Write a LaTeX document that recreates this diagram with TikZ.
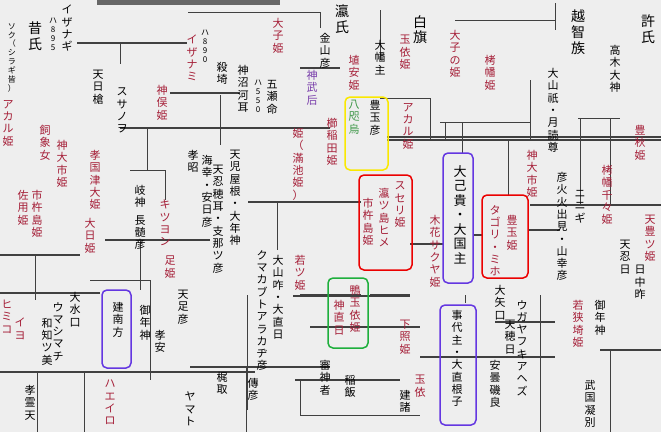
\documentclass[tikz,border=0pt]{standalone}
\usepackage{fontspec}
\newfontfamily\jp{Noto Sans CJK JP}
\makeatletter
\def\vstackA#1{\ifx#1\relax\else\hbox to 1em{\hss#1\hss}\expandafter\vstackA\fi}
\newcommand\vs[1]{\vbox{\baselineskip=1.12em\lineskiplimit=-20pt\vstackA#1\relax}}
\makeatother
\definecolor{bg}{RGB}{238,238,238}
\definecolor{rd}{RGB}{165,30,55}
\definecolor{pu}{RGB}{120,60,170}
\definecolor{bx}{RGB}{235,0,0}
\definecolor{by}{RGB}{250,232,0}
\definecolor{bp}{RGB}{100,55,225}
\definecolor{bg2}{RGB}{30,175,60}
\definecolor{gr}{RGB}{60,150,70}
\tikzset{
  n/.style={inner sep=0pt,anchor=north,font=\jp\fontsize{11}{12}\selectfont},
  s/.style={n,font=\jp\fontsize{8}{9}\selectfont},
  r/.style={n,text=rd},
  rs/.style={s,text=rd},
  bk/.style={n,font=\jp\fontsize{14}{15}\selectfont},
  ln/.style={line width=1.1pt,black!75},
  tl/.style={line width=0.6pt,black!75},
  hb/.style={rounded corners=5pt,line width=1.5pt},
}
\begin{document}
\begin{tikzpicture}[x=1pt,y=-1pt]
\fill[bg] (0,0) rectangle (661,432);
\useasboundingbox (0,0) rectangle (661,432);
% top strip
\fill[black!60] (97,0) rectangle (280,5);
% lines
\draw[ln] (77,43) -- (187,43);
\draw[tl] (120,43) -- (120,64);
\draw[ln] (170,93) -- (240,93);
\draw[ln] (120,128) -- (330,128);
\draw[ln] (387,140) -- (661,140);
\draw[ln] (387,137) -- (661,137);
\draw[tl] (188,12) -- (320,12) -- (320,28);
\draw[tl] (147,128) -- (147,170);
\draw[tl] (130,170) -- (165,170) -- (165,200);
\draw[tl] (220,95) -- (220,145);
\draw[ln] (248,202) -- (361,202);
\draw[tl] (277,202) -- (277,250);
\draw[ln] (105,240) -- (210,240);
\draw[tl] (140,240) -- (140,290);
\draw[ln] (0,255) -- (80,255);
\draw[tl] (35,255) -- (35,300);
\draw[tl] (90,280) -- (150,280) -- (150,380);
\draw[ln] (0,293) -- (100,293);
\draw[ln] (0,372) -- (255,372);
\draw[tl] (37,372) -- (37,432);
\draw[tl] (84,372) -- (84,432);
\draw[ln] (190,367) -- (330,367);
\draw[tl] (246,367) -- (246,432);
\draw[ln] (370,295) -- (410,295);
\draw[ln] (300,295) -- (361,295);
\draw[tl] (247,295) -- (247,410);
\draw[ln] (293,296) -- (410,296);
\draw[ln] (310,327) -- (420,327);
\draw[ln] (420,357) -- (555,357);
\draw[ln] (495,322) -- (555,322);
\draw[tl] (465,295) -- (465,303);
\draw[tl] (540,295) -- (540,432);
\draw[tl] (300,380) -- (300,415) -- (420,415);
\draw[ln] (410,244) -- (443,244);
\draw[ln] (473,235) -- (482,235);
\draw[ln] (528,230) -- (560,230);
\draw[ln] (530,205) -- (661,205);
\draw[tl] (440,122) -- (530,122);
\draw[tl] (445,122) -- (445,140);
\draw[tl] (462,122) -- (462,153);
\draw[tl] (508,140) -- (508,195);
\draw[tl] (530,80) -- (530,140);
\draw[tl] (578,118) -- (620,118);
\draw[tl] (580,118) -- (580,205);
\draw[tl] (610,118) -- (610,205);
\draw[tl] (555,3) -- (555,30);
\draw[tl] (455,20) -- (555,20);
\draw[tl] (380,10) -- (380,60);
\draw[tl] (380,98) -- (430,98) -- (430,140);
\draw[ln] (300,68) -- (340,68);
\draw[ln] (600,350) -- (661,350);
\draw[tl] (610,350) -- (610,432);
\draw[ln] (295,380) -- (400,380);
% ===== Titles
\node[bk] at (35,22) {\vs{昔氏}};
\node[bk] at (342,5) {\vs{瀛氏}};
\node[bk] at (420,15) {\vs{白旗}};
\node[bk] at (578,10) {\vs{越智族}};
\node[bk] at (648,15) {\vs{許氏}};
% ===== Left part
\node[n] at (67,5) {\vs{イザナギ}};
\node[s] at (53,18) {\vs{ハ895}};
\node[s] at (12,23) {\vs{ソク（シラギ皆）}};
\node[r] at (192,35) {\vs{イザナミ}};
\node[s] at (205,30) {\vs{ハ890}};
\node[n] at (98,70) {\vs{天日槍}};
\node[n] at (122,88) {\vs{スサノヲ}};
\node[r] at (162,85) {\vs{神俣姫}};
\node[n] at (222,62) {\vs{殺埼}};
\node[n] at (243,65) {\vs{神沼河耳}};
\node[n] at (272,80) {\vs{五瀬命}};
\node[s] at (258,80) {\vs{ハ550}};
\node[r] at (278,18) {\vs{大子姫}};
\node[n] at (325,33) {\vs{金山彦}};
\node[n,text=pu] at (312,70) {\vs{神武后}};
\node[r] at (298,128) {\vs{姫（滿池姫）}};
\node[r] at (8,100) {\vs{アカル姫}};
\node[r] at (45,125) {\vs{飼象女}};
\node[r] at (62,140) {\vs{神大市姫}};
\node[r] at (23,190) {\vs{佐用姫}};
\node[r] at (37,190) {\vs{市杵島姫}};
\node[r] at (95,150) {\vs{孝国津大姫}};
\node[r] at (90,218) {\vs{大日姫}};
\node[n] at (140,185) {\vs{岐神}};
\node[n] at (140,215) {\vs{長髄彦}};
\node[r] at (165,200) {\vs{キツヨン}};
\node[r] at (170,256) {\vs{足姫}};
\node[n] at (193,150) {\vs{孝昭}};
\node[n] at (207,155) {\vs{海幸・安日彦}};
\node[n] at (218,165) {\vs{天忍穂耳・支那ツ彦}};
\node[n] at (235,150) {\vs{天児屋根・大年神}};
\node[n] at (262,250) {\vs{クマカブトアラカヂ彦}};
\node[n] at (278,255) {\vs{大山咋・大直日}};
\node[r] at (300,255) {\vs{若ツ姫}};
% ===== Yellow box
\node[n] at (375,100) {\vs{豊玉彦}};
\node[n,text=gr] at (354,100) {\vs{八咫烏}};
\draw[hb,by] (345,97) rectangle (388,170);
\node[n] at (380,40) {\vs{大幡主}};
\node[r] at (354,55) {\vs{埴安姫}};
\node[r] at (332,118) {\vs{櫛稲田姫}};
\node[r] at (408,103) {\vs{アカル姫}};
\node[r] at (405,35) {\vs{玉依姫}};
% ===== Red box 1
\node[r] at (368,198) {\vs{市杵島姫}};
\node[r] at (384,188) {\vs{瀛ツ島ヒメ}};
\node[r] at (400,182) {\vs{スセリ姫}};
\draw[hb,bx] (359,175) rectangle (412,270);
\node[r] at (435,215) {\vs{木花サクヤ姫}};
% ===== Purple box 1
\node[bk,font=\jp\fontsize{13}{14}\selectfont] at (460,165) {\vs{大己貴・大国主}};
\draw[hb,bp] (443,153) rectangle (473,283);
% ===== Red box 2
\node[r] at (495,205) {\vs{タゴリ・ミホ}};
\node[r] at (512,215) {\vs{豊玉姫}};
\draw[hb,bx] (482,195) rectangle (528,278);
\node[r] at (490,55) {\vs{栲幡姫}};
\node[r] at (455,30) {\vs{大子の姫}};
\node[n] at (553,68) {\vs{大山祇・月読尊}};
\node[r] at (532,150) {\vs{神大市姫}};
\node[n] at (562,172) {\vs{彦火火出見・山幸彦}};
\node[n] at (580,190) {\vs{ニニギ}};
\node[n] at (615,45) {\vs{高木大神}};
\node[r] at (640,125) {\vs{豊秋姫}};
\node[r] at (607,165) {\vs{栲幡千々姫}};
\node[r] at (650,215) {\vs{天豊ツ姫}};
\node[n] at (625,240) {\vs{天忍日}};
\node[n] at (640,265) {\vs{日中昨}};
% ===== Green box
\node[r] at (355,285) {\vs{鴨玉依姫}};
\node[r] at (339,300) {\vs{神直日}};
\draw[hb,bg2] (328,278) rectangle (368,348);
\node[r] at (405,320) {\vs{下照姫}};
% ===== Purple box 2
\node[n] at (457,310) {\vs{事代主・大直根子}};
\draw[hb,bp] (440,305) rectangle (476,425);
\node[n] at (500,285) {\vs{大矢口}};
\node[n] at (522,300) {\vs{ウガヤフキアヘズ}};
\node[n] at (510,320) {\vs{天穂日}};
\node[n] at (495,360) {\vs{安曇磯良}};
\node[r] at (578,300) {\vs{若狭埼姫}};
\node[n] at (600,300) {\vs{御年神}};
\node[n] at (590,380) {\vs{武国凝別}};
% ===== Purple box 3
\node[n] at (118,302) {\vs{建南方}};
\draw[hb,bp] (102,290) rectangle (131,368);
\node[n] at (75,292) {\vs{大水口}};
\node[n] at (58,302) {\vs{ウマシマチ}};
\node[n] at (47,318) {\vs{和知ツ美}};
\node[r] at (20,318) {\vs{イヨ}};
\node[r] at (7,300) {\vs{ヒミコ}};
\node[n] at (145,305) {\vs{御年神}};
\node[n] at (160,330) {\vs{孝安}};
\node[n] at (183,290) {\vs{天足彦}};
\node[n] at (190,392) {\vs{ヤマト}};
\node[n] at (222,372) {\vs{梶取}};
\node[n] at (253,378) {\vs{傳彦}};
\node[n] at (325,360) {\vs{審神者}};
\node[n] at (350,375) {\vs{稲飯}};
\node[n] at (405,390) {\vs{建諸}};
\node[r] at (420,375) {\vs{玉依}};
\node[r] at (110,380) {\vs{ハエイロ}};
\node[n] at (30,385) {\vs{孝霊天}};
\end{tikzpicture}
\end{document}
